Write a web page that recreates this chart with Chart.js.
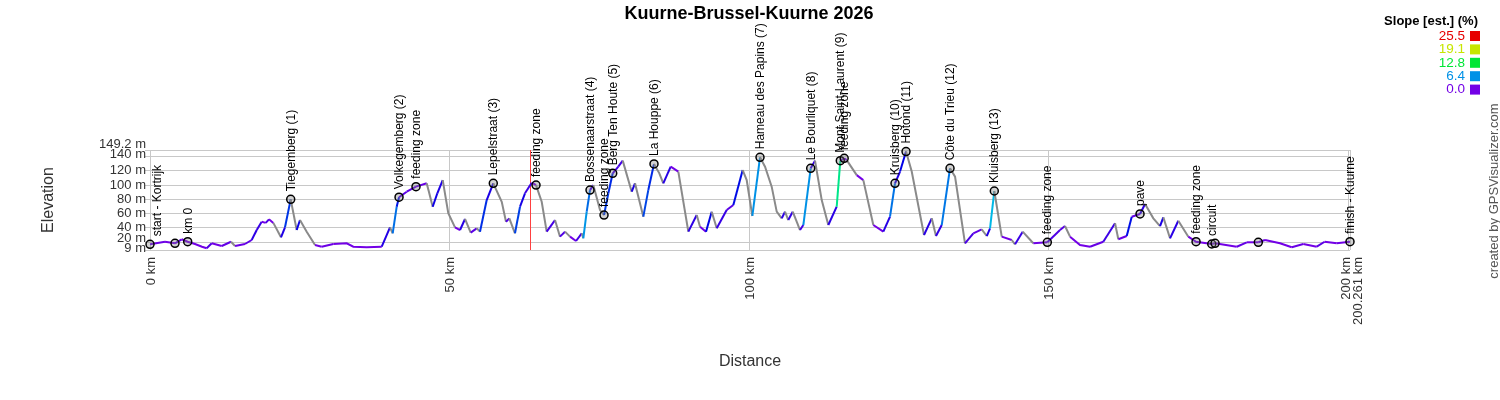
<!DOCTYPE html>
<html>
<head>
<meta charset="utf-8">
<title>Kuurne-Brussel-Kuurne 2026</title>
<script src="https://cdn.jsdelivr.net/npm/chart.js@4.4.1/dist/chart.umd.min.js"></script>
<style>
  html, body { margin: 0; padding: 0; background: #fff; }
  #wrap { width: 1500px; height: 400px; }
</style>
</head>
<body>
<div id="wrap"><canvas id="profil" width="1500" height="400"></canvas></div>
<script>
// ----------------------
// DATA
// ----------------------
const distKm = [0, 2.5, 4.17, 5.29, 6.29, 7.51, 8.68, 9.46, 10.3, 11.97, 13.52, 14.19, 15.85, 16.97, 17.81, 18.64, 19.31, 19.86, 20.58, 21.86,
  22.53, 23.48, 24.48, 25.03, 26.15, 27.54, 28.65, 30.59, 32.83, 33.93, 36.16, 38.67, 39.39, 40.05, 40.5, 41.17, 41.56, 42.84, 44.39, 46.18,
  47.18, 47.95, 48.85, 49.78, 50.9, 51.74, 52.57, 53.52, 54.52, 55.07, 56.19, 57.29, 58.7, 59.41, 59.96, 60.91, 61.75, 62.58, 63.7, 64.42,
  65.37, 66.2, 67.59, 68.42, 69.26, 70.09, 71.1, 72.05, 72.31, 72.88, 73.43, 73.98, 75.1, 75.77, 76.49, 77.22, 78.15, 78.89, 80.39, 80.94,
  82.33, 83.16, 84.11, 85.0, 85.66, 86.9, 88.17, 89.84, 91.24, 91.79, 92.79, 93.74, 94.58, 96.24, 97.35, 98.91, 99.58, 100.52, 101.8, 102.64,
  103.75, 104.59, 105.42, 105.97, 106.52, 107.26, 108.48, 109.03, 110.26, 110.98, 112.1, 113.2, 114.6, 115.2, 115.85, 116.27, 117.94, 119.04, 120.71, 122.38,
  123.5, 124.33, 125.17, 126.17, 127.12, 129.17, 130.46, 131.17, 132.13, 133.51, 134.35, 136.01, 137.4, 138.8, 139.64, 140.19, 140.9, 142.14, 143.81, 144.36,
  145.64, 147.41, 149.75, 151.87, 152.7, 153.54, 155.21, 156.88, 159.09, 161.05, 161.6, 163.0, 163.84, 165.22, 166.06, 167.44, 168.56, 169.11, 170.23, 171.61,
  173.28, 174.57, 177.19, 177.74, 181.36, 183.03, 184.96, 186.08, 188.58, 190.54, 192.47, 194.71, 196.03, 198.05, 200.261];
const elevM = [17, 20.6, 18.4, 24, 20.6, 17.4, 13.6, 11.4, 18.4, 14.6, 20.6, 14.6, 17.4, 23, 37, 48.7, 47, 52, 47, 26.8,
  40.8, 80, 37, 51, 34.7, 16, 13.6, 17.4, 18.4, 13.6, 12.8, 13.6, 27.7, 40.8, 32.4, 69.7, 83, 90.7, 97.8, 102.5,
  69.7, 88.5, 107, 60.5, 40.8, 37, 52.5, 33.3, 39.4, 34.7, 79, 102.5, 76.7, 48.7, 53.4, 32.4, 69.7, 88.5, 103.4, 100,
  76.7, 34.7, 51, 27.7, 34.7, 27.7, 21.6, 32.4, 25.4, 62.7, 93, 100, 65, 58, 88.5, 116.5, 125.8, 134.3, 90.7, 102.5,
  55.7, 93, 129.6, 116.5, 102.5, 125.8, 119, 34.7, 58, 41.7, 34.7, 62.7, 39.4, 65, 72, 121, 107, 56.7, 139, 125.8,
  97.8, 62.7, 53.4, 62.7, 51, 62.7, 37, 44, 123.5, 134.3, 79, 44, 69.7, 134.3, 137.6, 135, 114, 107, 44, 34.7,
  55.7, 102.5, 119, 147, 119, 30, 53.4, 28.6, 44, 123.5, 111.8, 18.4, 32.4, 38, 28.6, 39.4, 91.7, 27.7, 23, 17,
  34.7, 18.4, 19.8, 37, 42.6, 27.7, 16, 13.6, 20.6, 46.4, 24, 28.6, 55.7, 59.5, 73.5, 53.4, 42.6, 54.8, 25.4, 50,
  27.7, 20.6, 17.4, 18.4, 13.6, 19.8, 19.8, 23, 18.4, 12.8, 17.4, 13.6, 20.6, 18.4, 20.6];

const wptKm = [0, 4.17, 6.29, 23.48, 41.56, 44.39, 57.29, 64.42, 73.43, 75.77, 77.22, 84.11, 101.8, 110.26,
  115.2, 115.85, 124.33, 126.17, 133.51, 140.9, 149.75, 165.22, 174.57, 177.19, 177.74, 184.96, 200.261];
const wptEle = [17, 18.4, 20.6, 80, 83, 97.8, 102.5, 100, 93, 58, 116.5, 129.6, 139, 123.5,
  134.3, 137.6, 102.5, 147, 123.5, 91.7, 19.8, 59.5, 20.6, 17.4, 18.4, 19.8, 20.6];
const wptName = ["start - Kortrijk", "", "km 0", "Tiegemberg (1)", "Volkegemberg (2)", "feeding zone", "Lepelstraat (3)",
  "feeding zone", "Bossenaarstraat (4)", "feeding zone", "Berg Ten Houte (5)", "La Houppe (6)", "Hameau des Papins (7)",
  "Le Bourliquet (8)", "Mont Saint-Laurent (9)", "feeding zone", "Kruisberg (10)", "Hotond (11)", "Côte du Trieu (12)",
  "Kluisberg (13)", "feeding zone", "pave", "feeding zone", "circuit", "", "", "finish - Kuurne"];

const redLineKm = [63.42];

const xTickKm = [0, 50, 100, 150, 200, 200.261];
const xTickLabel = ["0 km", "50 km", "100 km", "150 km", "200 km", "200.261 km"];
const yTickM = [9, 20, 40, 60, 80, 100, 120, 140, 149.2];
const yTickLabel = ["9 m", "20 m", "40 m", "60 m", "80 m", "100 m", "120 m", "140 m", "149.2 m"];
const slopeLegend = [25.5, 19.1, 12.8, 6.4, 0.0];

const FONT = "'Liberation Sans', Arial, sans-serif";

// ----------------------
// UTIL: slope -> colour
// ----------------------
function warnaSlope(s) {
  const hue = Math.max(0, 270 - Math.min(s, 25.5) * 270 / 25.5);
  return `hsl(${hue.toFixed(0)}, 100%, 45%)`;
}

// ----------------------
// TEXT + OVERLAYS
// ----------------------
const gpsvPlugin = {
  id: "gpsv",
  beforeDatasetsDraw(chart) {
    const { ctx, chartArea: a, scales: { x } } = chart;
    ctx.save();
    ctx.strokeStyle = "#ff4040";
    ctx.lineWidth = 1;
    redLineKm.forEach(km => {
      const px = Math.round(x.getPixelForValue(km)) + 0.5;
      ctx.beginPath();
      ctx.moveTo(px, a.top);
      ctx.lineTo(px, a.bottom);
      ctx.stroke();
    });
    ctx.restore();
  },
  afterDraw(chart) {
    const { ctx, chartArea: a, scales: { x, y } } = chart;
    ctx.save();

    // waypoint labels
    ctx.fillStyle = "#000";
    ctx.font = `12px ${FONT}`;
    ctx.textAlign = "left";
    ctx.textBaseline = "middle";
    wptKm.forEach((km, i) => {
      if (!wptName[i]) return;
      const px = Math.max(x.getPixelForValue(km), a.left + 7);
      const py = y.getPixelForValue(wptEle[i]);
      ctx.save();
      ctx.translate(px + 0.5, py - 8);
      ctx.rotate(-Math.PI / 2);
      ctx.fillText(wptName[i], 0, 0);
      ctx.restore();
    });

    // y tick labels (nudged apart where they crowd)
    ctx.fillStyle = "#333";
    ctx.font = `13px ${FONT}`;
    ctx.textAlign = "right";
    const geser = { 0: -2, 1: -4, 7: -2, 8: -6 };
    yTickM.forEach((v, i) => {
      ctx.fillText(yTickLabel[i], a.left - 4, y.getPixelForValue(v) + (geser[i] || 0));
    });

    // x tick labels, rotated
    xTickKm.forEach((v, i) => {
      const px = x.getPixelForValue(v);
      let dx = 1;
      if (i < xTickKm.length - 1 && x.getPixelForValue(xTickKm[i + 1]) - px < 14) dx = -2;
      if (i > 0 && px - x.getPixelForValue(xTickKm[i - 1]) < 14) dx = 8;
      ctx.save();
      ctx.translate(px + dx, a.bottom + 7);
      ctx.rotate(-Math.PI / 2);
      ctx.textAlign = "right";
      ctx.fillText(xTickLabel[i], 0, 0);
      ctx.restore();
    });

    // title + axis titles
    ctx.fillStyle = "#000";
    ctx.font = `bold 18px ${FONT}`;
    ctx.textAlign = "center";
    ctx.fillText("Kuurne-Brussel-Kuurne 2026", 749, 14);

    ctx.fillStyle = "#333";
    ctx.font = `16px ${FONT}`;
    ctx.fillText("Distance", (a.left + a.right) / 2, 362);
    ctx.save();
    ctx.translate(49, (a.top + a.bottom) / 2);
    ctx.rotate(-Math.PI / 2);
    ctx.fillText("Elevation", 0, 0);
    ctx.restore();

    // slope legend
    ctx.fillStyle = "#000";
    ctx.font = `bold 13px ${FONT}`;
    ctx.textAlign = "right";
    ctx.fillText("Slope [est.] (%)", 1478, 21);
    ctx.font = `13.5px ${FONT}`;
    slopeLegend.forEach((s, i) => {
      const ry = 36 + i * 13.4;
      ctx.fillStyle = warnaSlope(s);
      ctx.fillText(s.toFixed(1), 1465, ry);
      ctx.fillRect(1470, ry - 5, 10, 10);
    });

    // credit
    ctx.fillStyle = "#555";
    ctx.font = `13px ${FONT}`;
    ctx.textAlign = "center";
    ctx.translate(1494, 191);
    ctx.rotate(-Math.PI / 2);
    ctx.fillText("created by GPSVisualizer.com", 0, 0);

    ctx.restore();
  }
};

// ----------------------
// CHART
// ----------------------
const profil = distKm.map((d, i) => ({ x: d, y: elevM[i] }));
const titik = wptKm.map((d, i) => ({ x: d, y: wptEle[i] }));

new Chart(document.getElementById("profil"), {
  type: "line",
  data: {
    datasets: [
      {
        label: "waypoints",
        data: titik,
        showLine: false,
        pointRadius: 4,
        pointBorderWidth: 1.5,
        pointBorderColor: "#000",
        pointBackgroundColor: "rgba(130,130,130,0.35)",
        clip: false
      },
      {
        label: "elevation",
        data: profil,
        borderWidth: 2,
        borderColor: "#8a8a8a",
        pointRadius: 0,
        tension: 0,
        segment: {
          borderColor: c => {
            const dx = (c.p1.parsed.x - c.p0.parsed.x) * 1000;
            const s = (c.p1.parsed.y - c.p0.parsed.y) / dx * 100;
            return s < -0.8 ? "#8a8a8a" : warnaSlope(Math.max(0, s));
          }
        }
      }
    ]
  },
  options: {
    responsive: false,
    devicePixelRatio: 1,
    animation: false,
    layout: { padding: { top: 150, right: 150, bottom: 0, left: 0 } },
    plugins: { legend: { display: false }, tooltip: { enabled: false }, title: { display: false } },
    scales: {
      x: {
        type: "linear",
        min: 0,
        max: 200.261,
        afterBuildTicks: s => { s.ticks = xTickKm.map(v => ({ value: v })); },
        afterFit: s => { s.height = 150; },
        ticks: { display: false, autoSkip: false },
        grid: { color: "#c8c8c8", drawTicks: false },
        border: { display: false }
      },
      y: {
        min: 9,
        max: 149.2,
        afterBuildTicks: s => { s.ticks = yTickM.map(v => ({ value: v })); },
        afterFit: s => { s.width = 150; },
        ticks: { display: false, autoSkip: false },
        grid: { color: "#c8c8c8", drawTicks: true, tickLength: 5 },
        border: { display: false }
      }
    }
  },
  plugins: [gpsvPlugin]
});
</script>
</body>
</html>
